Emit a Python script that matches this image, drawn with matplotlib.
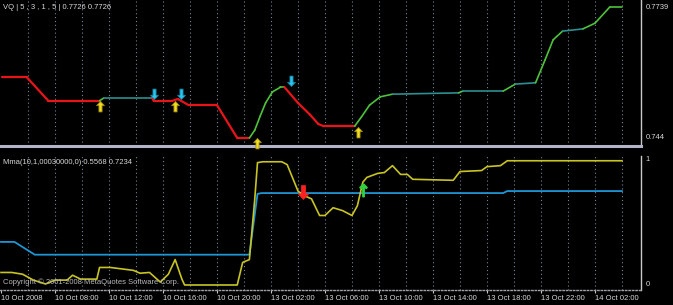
import matplotlib
matplotlib.use('Agg')
import matplotlib.pyplot as plt
from matplotlib.collections import LineCollection
from matplotlib.path import Path
import matplotlib.transforms as mtransforms
import numpy as np

# ---- data (x = hourly bar index, 0 = first bar on the chart) ----
tick_hours = [0, 4, 8, 12, 16, 20, 24, 28, 32, 36, 40, 44]
tick_labels = ["10 Oct 2008", "10 Oct 08:00", "10 Oct 12:00", "10 Oct 16:00",
               "10 Oct 20:00", "13 Oct 02:00", "13 Oct 06:00", "13 Oct 10:00",
               "13 Oct 14:00", "13 Oct 18:00", "13 Oct 22:00", "14 Oct 02:00"]

# VQ line (top panel), state of each segment ending at the point
vq_hours = [0.1, 1.9, 3.5, 7.3, 7.6, 11.2, 11.3, 12.7, 13.1, 13.9, 16.0, 17.5,
            18.4, 18.8, 19.2, 19.6, 20.1, 20.7, 21.0, 22.0, 22.9, 23.5, 23.9,
            26.2, 26.7, 27.3, 28.1, 29.0, 33.9, 34.2, 37.2, 38.1, 39.6, 40.3,
            40.9, 41.6, 43.1, 44.0, 45.1, 46.0]
vq_price = [0.7579, 0.7579, 0.7525, 0.7525, 0.7531, 0.7531, 0.7525, 0.7525,
            0.7529, 0.7515, 0.7515, 0.7440, 0.7440, 0.7458, 0.7490, 0.7520,
            0.7545, 0.7556, 0.7556, 0.7520, 0.7493, 0.7472, 0.7467, 0.7467,
            0.7488, 0.7515, 0.7534, 0.7540, 0.7543, 0.7547, 0.7547, 0.7563,
            0.7566, 0.7618, 0.7664, 0.7684, 0.7689, 0.7702, 0.7739, 0.7739]
vq_state = ['dn', 'dn', 'dn', 'dn', 'up', 'fl', 'dn', 'dn', 'dn', 'dn', 'dn', 'dn',
            'dn', 'up', 'up', 'up', 'up', 'up', 'up', 'dn', 'dn', 'dn', 'dn',
            'dn', 'up', 'up', 'up', 'up', 'fl', 'up', 'fl', 'up', 'fl', 'up',
            'up', 'up', 'fl', 'up', 'up', 'up']

# signal arrows on the VQ panel
buy_hours = [7.3, 12.9, 18.96, 26.44]
buy_price = [0.7524, 0.7524, 0.7439, 0.7466]
sell_hours = [11.3, 13.35, 21.45]
sell_price = [0.7530, 0.7530, 0.7558]

# lower panel lines
yel_hours = [0.0, 0.8, 1.6, 2.4, 3.3, 4.0, 4.9, 5.3, 5.9, 7.1, 7.3, 8.1, 9.8,
             10.3, 11.0, 11.8, 12.4, 12.9, 13.4, 13.6, 17.5, 17.9, 18.4, 18.8,
             19.0, 19.4, 20.8, 21.2, 22.0, 22.5, 23.0, 23.6, 24.0, 24.6, 25.3,
             26.0, 26.4, 26.8, 27.1, 27.9, 28.4, 29.0, 29.6, 30.1, 30.5, 33.5,
             34.0, 35.6, 36.0, 37.0, 37.5, 46.0]
yel_value = [0.10, 0.10, 0.086, 0.039, 0.008, 0.039, 0.039, 0.078, 0.047, 0.047,
             0.14, 0.14, 0.117, 0.094, 0.10, 0.023, 0.086, 0.203, 0.047, 0.0,
             0.0, 0.18, 0.203, 0.688, 0.977, 0.984, 0.984, 0.961, 0.75, 0.711,
             0.688, 0.555, 0.555, 0.617, 0.594, 0.555, 0.633, 0.82, 0.859, 0.891,
             0.898, 0.953, 0.883, 0.883, 0.844, 0.836, 0.906, 0.914, 0.945,
             0.953, 0.992, 0.992]
blue_hours = [0.0, 1.0, 2.5, 18.4, 19.0, 19.3, 37.2, 37.5, 46.0]
blue_value = [0.344, 0.344, 0.242, 0.242, 0.727, 0.734, 0.734, 0.75, 0.75]

cross_dn = (22.37, 0.742)
cross_up = (26.81, 0.758)

state_colors = {'dn': '#e8141a', 'up': '#4ec23a', 'fl': '#2c9090'}
txt_font = ['Liberation Sans', 'DejaVu Sans']
txt_col = '#d8d8d8'

# arrow markers: tip at the origin, so the tip sits on the line
up_arrow = Path([(0, 0), (0.75, -0.8), (0.3, -0.8), (0.3, -2.0), (-0.3, -2.0),
                 (-0.3, -0.8), (-0.75, -0.8), (0, 0)],
                [Path.MOVETO] + [Path.LINETO] * 6 + [Path.CLOSEPOLY])
dn_arrow = Path([(0, 0), (0.75, 0.8), (0.3, 0.8), (0.3, 2.0), (-0.3, 2.0),
                 (-0.3, 0.8), (-0.75, 0.8), (0, 0)],
                [Path.MOVETO] + [Path.LINETO] * 6 + [Path.CLOSEPOLY])
dn_arrow_c = Path([(0, -1), (0.75, -0.2), (0.3, -0.2), (0.3, 1.0), (-0.3, 1.0),
                   (-0.3, -0.2), (-0.75, -0.2), (0, -1)],
                  [Path.MOVETO] + [Path.LINETO] * 6 + [Path.CLOSEPOLY])

fig = plt.figure(figsize=(6.73, 3.05), dpi=100, facecolor='black')
W, H = 673.0, 305.0
ax1 = fig.add_axes([0, 1 - 146 / H, 641 / W, 146 / H], facecolor='black')
ax2 = fig.add_axes([0, 15 / H, 641 / W, 134 / H], facecolor='black')

for ax in (ax1, ax2):
    ax.set_xlim(-0.074, 47.41)
    for s in ax.spines.values():
        s.set_visible(False)
    ax.spines['right'].set_visible(True)
    ax.spines['right'].set_color('#c8c8c8')
    ax.spines['right'].set_linewidth(1.0)
    ax.set_yticks([])
    for g in range(2, 47, 2):
        ax.axvline(g, color='#74849a', lw=0.8, ls=(0, (1, 2.5)), zorder=1)

ax1.set_ylim(0.74217, 0.77550)
ax2.set_ylim(-0.04, 1.03)

# separator between panels
ax1.spines['bottom'].set_visible(True)
ax1.spines['bottom'].set_color('#b4b4c8')
ax1.spines['bottom'].set_linewidth(2.2)

# VQ line coloured by state
pts = np.column_stack([vq_hours, vq_price])
segs = np.stack([pts[:-1], pts[1:]], axis=1)
cols = [state_colors[s] for s in vq_state[1:]]
lws = [1.6 if s == 'dn' else 1.2 for s in vq_state[1:]]
ax1.add_collection(LineCollection(segs, colors=cols, linewidths=lws, zorder=3,
                                  capstyle='round', joinstyle='round'))

ax1.plot(buy_hours, buy_price, ls='none', marker=up_arrow, ms=15,
         mfc='#f0dc20', mec='#a08a10', mew=0.6, zorder=4, clip_on=False)
ax1.plot(sell_hours, sell_price, ls='none', marker=dn_arrow, ms=15,
         mfc='#28c4ec', mec='#1880a0', mew=0.6, zorder=4)

ax1.text(0.005, 0.975, 'VQ | 5 , 3 , 1 , 5 | 0.7726 0.7726', transform=ax1.transAxes,
         color=txt_col, fontsize=5.5, family=txt_font, ha='left', va='top')

# lower panel
ax2.plot(blue_hours, blue_value, color='#1e96d4', lw=1.3, zorder=3)
ax2.plot(yel_hours, yel_value, color='#c8c424', lw=1.2, zorder=4)
ax2.plot([cross_dn[0]], [cross_dn[1]], ls='none', marker=dn_arrow_c, ms=10,
         mfc='#ff2020', mec='#ff2020', mew=0.5, zorder=5)
ax2.plot([cross_up[0]], [cross_up[1]], ls='none', marker=r'$\uparrow$', ms=9,
         color='#30d040', zorder=5)

ax2.text(0.005, 0.975, 'Mma(10,1,00030000,0) 0.5568 0.7234', transform=ax2.transAxes,
         color=txt_col, fontsize=5.5, family=txt_font, ha='left', va='top')
ax2.text(0.005, 0.03, 'Copyright \u00a9 2001-2008 MetaQuotes Software Corp.',
         transform=ax2.transAxes, color='#b8b8b8', fontsize=5.5, family=txt_font,
         ha='left', va='bottom', zorder=6)

ax2.spines['bottom'].set_visible(True)
ax2.spines['bottom'].set_color('#a0a0a8')
ax2.spines['bottom'].set_linestyle((0, (1, 1.5)))
ax2.spines['bottom'].set_linewidth(1.0)

ax1.set_xticks([])
ax2.set_xticks(tick_hours)
ax2.set_xticklabels(tick_labels)
ax2.tick_params(axis='x', colors='#c8c8c8', length=2, width=0.8, pad=1.5,
                labelsize=5.5, labelcolor=txt_col)
for lab in ax2.get_xticklabels():
    lab.set_ha('left')
    lab.set_family(txt_font)

# right-side price scale labels
for ax, vals, labs in ((ax1, [0.7739, 0.7440], ['0.7739', '0.744']),
                       (ax2, [1.0, 0.0], ['1', '0'])):
    tr = mtransforms.blended_transform_factory(ax.transAxes, ax.transData)
    for v, s in zip(vals, labs):
        ax.text(1.007, v, s, transform=tr, color=txt_col, fontsize=5.5,
                family=txt_font, ha='left', va='center', clip_on=False)

fig.savefig('out.png', dpi=100, facecolor='black')
